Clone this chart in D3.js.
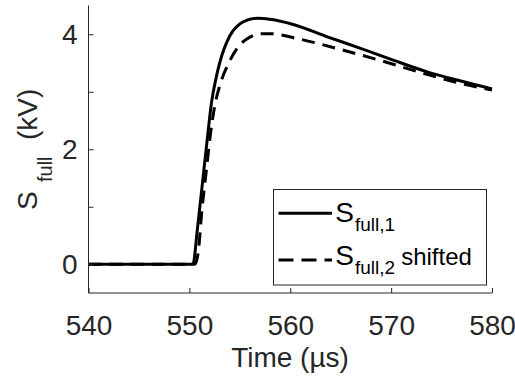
<!DOCTYPE html>
<html>
<head>
<meta charset="utf-8">
<script src="https://cdn.jsdelivr.net/npm/d3@7"></script>
<style>
  html, body { margin: 0; padding: 0; background: #fff; }
  svg { display: block; font-family: "Liberation Sans", Arial, Helvetica, sans-serif; }
</style>
</head>
<body>
<svg id="chart" width="515" height="382"></svg>
<script>
// Full signal S_full,1 (time in µs, value in kV)
const time1 = [540, 550.35, 550.8, 551.3, 551.8, 552.2, 552.6, 553.0, 554.0, 555.0, 556.0, 556.8, 558.0, 560.3, 563.6, 566.9, 570.2, 573.5, 576.8, 580];
const sFull1 = [0, 0, 0.62, 1.42, 2.22, 2.82, 3.2, 3.5, 3.97, 4.18, 4.26, 4.28, 4.26, 4.17, 3.96, 3.76, 3.55, 3.35, 3.19, 3.05];

// Second signal S_full,2, shifted in time
const time2 = [540, 550.55, 550.9, 551.2, 551.7, 552.1, 552.5, 553.0, 553.9, 554.85, 556.0, 557.3, 558.0, 560.8, 565.1, 569.2, 573.2, 577.5, 580];
const sFull2 = [0, 0, 0.24, 0.86, 1.66, 2.28, 2.74, 3.1, 3.5, 3.78, 3.95, 4.01, 4.01, 3.92, 3.73, 3.53, 3.32, 3.12, 3.03];

// Axis ticks
const xTicks = [540, 550, 560, 570, 580];
const yTicks = [0, 1, 2, 3, 4];
const yTickLabels = ["0", "", "2", "", "4"];

const seriesNames = ["S_full,1", "S_full,2 shifted"];

const axisColor = "#262626";
const svg = d3.select("#chart");

const x = d3.scaleLinear().domain([540, 580]).range([88.5, 492]);
const y = d3.scaleLinear().domain([-0.5, 4.5]).range([293, 5.5]);

// Curves
const line = d3.line()
  .x(d => x(d[0]))
  .y(d => y(d[1]))
  .curve(d3.curveMonotoneX);

const data1 = time1.map((t, i) => [t, sFull1[i]]);
const data2 = time2.map((t, i) => [t, sFull2[i]]);

svg.append("path")
  .datum(data2)
  .attr("d", line)
  .attr("fill", "none")
  .attr("stroke", "#000")
  .attr("stroke-width", 3)
  .attr("stroke-dasharray", "13,8");

svg.append("path")
  .datum(data1)
  .attr("d", line)
  .attr("fill", "none")
  .attr("stroke", "#000")
  .attr("stroke-width", 3);

// Axes (ticks pointing inward)
const xAxis = d3.axisBottom(x)
  .tickValues(xTicks)
  .tickSize(-5)
  .tickPadding(22)
  .tickFormat(d3.format("d"));

const yAxis = d3.axisLeft(y)
  .tickValues(yTicks)
  .tickSize(-5)
  .tickPadding(11)
  .tickFormat((d, i) => yTickLabels[i]);

const gx = svg.append("g")
  .attr("transform", `translate(0,${y(-0.5)})`)
  .call(xAxis);

const gy = svg.append("g")
  .attr("transform", `translate(${x(540)},0)`)
  .call(yAxis);

[gx, gy].forEach(g => {
  g.select(".domain").attr("stroke", axisColor).attr("stroke-width", 1);
  g.selectAll(".tick line").attr("stroke", axisColor).attr("stroke-width", 1);
  g.selectAll(".tick text")
    .attr("fill", axisColor)
    .style("font-size", "28px")
    .style("font-family", "'Liberation Sans', Arial, sans-serif");
});
// plain axis lines without end caps
gx.select(".domain").attr("d", `M${x(540)},0H${x(580)}`);
gy.select(".domain").attr("d", `M0,${y(4.5)}V${y(-0.5)}`);
gx.selectAll(".tick text").attr("dy", "0.71em");

// Axis titles
svg.append("text")
  .attr("x", 290)
  .attr("y", 367)
  .attr("text-anchor", "middle")
  .attr("fill", axisColor)
  .style("font-size", "28px")
  .text("Time (µs)");

const yTitle = svg.append("text")
  .attr("transform", "translate(36.5,210) rotate(-90)")
  .attr("text-anchor", "start")
  .attr("fill", axisColor);
yTitle.append("tspan").attr("x", 0).attr("y", 0).style("font-size", "28px").text("S");
yTitle.append("tspan").attr("x", 28).attr("y", 15).style("font-size", "20px").text("full");
yTitle.append("tspan").attr("x", 70).attr("y", 0).style("font-size", "28px").text("(kV)");

// Legend
const legend = svg.append("g");
legend.append("rect")
  .attr("x", 273.5).attr("y", 189.5)
  .attr("width", 213).attr("height", 95.5)
  .attr("fill", "#fff")
  .attr("stroke", axisColor)
  .attr("stroke-width", 1);

const rows = [
  { lineY: 213.3, base: 221.5, dash: null, sub: "full,1", tail: "" },
  { lineY: 260, base: 265, dash: "15,8", sub: "full,2", tail: "shifted" }
];
rows.forEach((r, i) => {
  legend.append("line")
    .attr("x1", 278.5).attr("x2", 332)
    .attr("y1", r.lineY).attr("y2", r.lineY)
    .attr("stroke", "#000")
    .attr("stroke-width", 3)
    .attr("stroke-dasharray", r.dash);
  const t = legend.append("text")
    .attr("x", 335.3)
    .attr("y", r.base)
    .attr("fill", "#000")
    .attr("data-name", seriesNames[i]);
  t.append("tspan").style("font-size", "28px").text("S");
  t.append("tspan").style("font-size", "19px").attr("dy", 9).attr("dx", 1).text(r.sub);
  if (r.tail) {
    t.append("tspan").style("font-size", "24px").attr("dy", -9).attr("dx", 6).text(r.tail);
  }
});
</script>
</body>
</html>
